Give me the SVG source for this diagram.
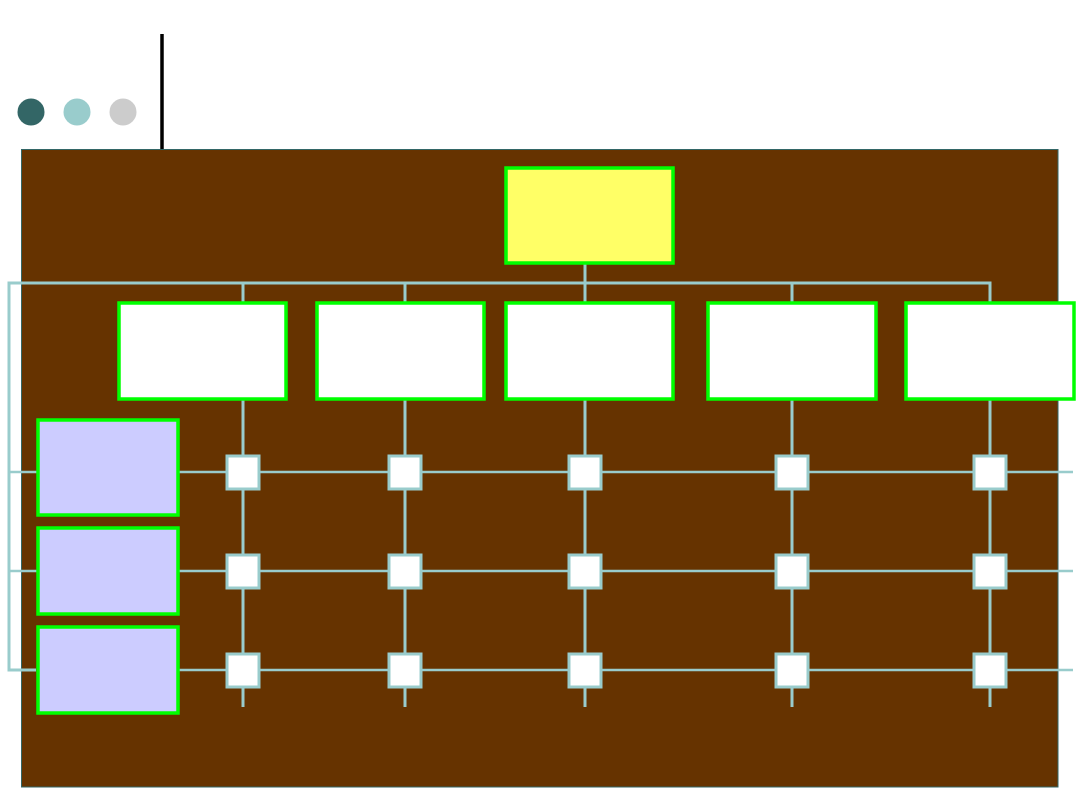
<svg xmlns="http://www.w3.org/2000/svg" width="1080" height="810" viewBox="0 0 1080 810">
<style>
.box{stroke:#00FF00;stroke-width:3.5}
.top{fill:#FFFF66}
.mid{fill:#FFFFFF}
.side{fill:#CCCCFF}
.cell{fill:#FFFFFF;stroke:#99CCCC;stroke-width:3}
.link{fill:none;stroke:#99CCCC;stroke-width:3}
.row{fill:none;stroke:#99CCCC;stroke-width:2.5}
</style>
<rect width="1080" height="810" fill="#FFFFFF"/>
<g id="title-decor">
<circle cx="31" cy="112" r="13.5" fill="#336666"/>
<circle cx="77" cy="112" r="13.5" fill="#99CCCC"/>
<circle cx="123" cy="112" r="13.5" fill="#CCCCCC"/>
<line x1="162" y1="34" x2="162" y2="149" stroke="#000000" stroke-width="3.5"/>
</g>
<rect id="panel" x="21.5" y="149.5" width="1036.5" height="637.5" fill="#663300" stroke="#336666" stroke-width="1"/>
<g id="connectors">
<polyline class="link" points="36,670 9,670 9,283 990,283 990,302"/>
<line class="link" x1="243" y1="283" x2="243" y2="302"/>
<line class="link" x1="405" y1="283" x2="405" y2="302"/>
<line class="link" x1="585" y1="263" x2="585" y2="302"/>
<line class="link" x1="792" y1="283" x2="792" y2="302"/>
<line class="link" x1="243" y1="399" x2="243" y2="707"/>
<line class="link" x1="405" y1="399" x2="405" y2="707"/>
<line class="link" x1="585" y1="399" x2="585" y2="707"/>
<line class="link" x1="792" y1="399" x2="792" y2="707"/>
<line class="link" x1="990" y1="399" x2="990" y2="707"/>
<line class="row" x1="9" y1="472" x2="37" y2="472"/>
<line class="row" x1="9" y1="571" x2="37" y2="571"/>
<line class="row" x1="179" y1="472" x2="1073" y2="472"/>
<line class="row" x1="179" y1="571" x2="1073" y2="571"/>
<line class="row" x1="179" y1="670" x2="1073" y2="670"/>
</g>
<g id="node-top"><rect class="box top" x="506" y="168" width="167" height="95"/></g>
<g id="node-c1"><rect class="box mid" x="119" y="303" width="167" height="96"/></g>
<g id="node-c2"><rect class="box mid" x="317" y="303" width="167" height="96"/></g>
<g id="node-c3"><rect class="box mid" x="506" y="303" width="167" height="96"/></g>
<g id="node-c4"><rect class="box mid" x="708" y="303" width="168" height="96"/></g>
<g id="node-c5"><rect class="box mid" x="906" y="303" width="168" height="96"/></g>
<g id="node-r1"><rect class="box side" x="38" y="420" width="140" height="95"/></g>
<g id="node-r2"><rect class="box side" x="38" y="528" width="140" height="86"/></g>
<g id="node-r3"><rect class="box side" x="38" y="627" width="140" height="86"/></g>
<g id="cells">
<g id="cell-1-1"><rect class="cell" x="227" y="456" width="32" height="33"/></g>
<g id="cell-1-2"><rect class="cell" x="389" y="456" width="32" height="33"/></g>
<g id="cell-1-3"><rect class="cell" x="569" y="456" width="32" height="33"/></g>
<g id="cell-1-4"><rect class="cell" x="776" y="456" width="32" height="33"/></g>
<g id="cell-1-5"><rect class="cell" x="974" y="456" width="32" height="33"/></g>
<g id="cell-2-1"><rect class="cell" x="227" y="555" width="32" height="33"/></g>
<g id="cell-2-2"><rect class="cell" x="389" y="555" width="32" height="33"/></g>
<g id="cell-2-3"><rect class="cell" x="569" y="555" width="32" height="33"/></g>
<g id="cell-2-4"><rect class="cell" x="776" y="555" width="32" height="33"/></g>
<g id="cell-2-5"><rect class="cell" x="974" y="555" width="32" height="33"/></g>
<g id="cell-3-1"><rect class="cell" x="227" y="654" width="32" height="33"/></g>
<g id="cell-3-2"><rect class="cell" x="389" y="654" width="32" height="33"/></g>
<g id="cell-3-3"><rect class="cell" x="569" y="654" width="32" height="33"/></g>
<g id="cell-3-4"><rect class="cell" x="776" y="654" width="32" height="33"/></g>
<g id="cell-3-5"><rect class="cell" x="974" y="654" width="32" height="33"/></g>
</g>
</svg>
